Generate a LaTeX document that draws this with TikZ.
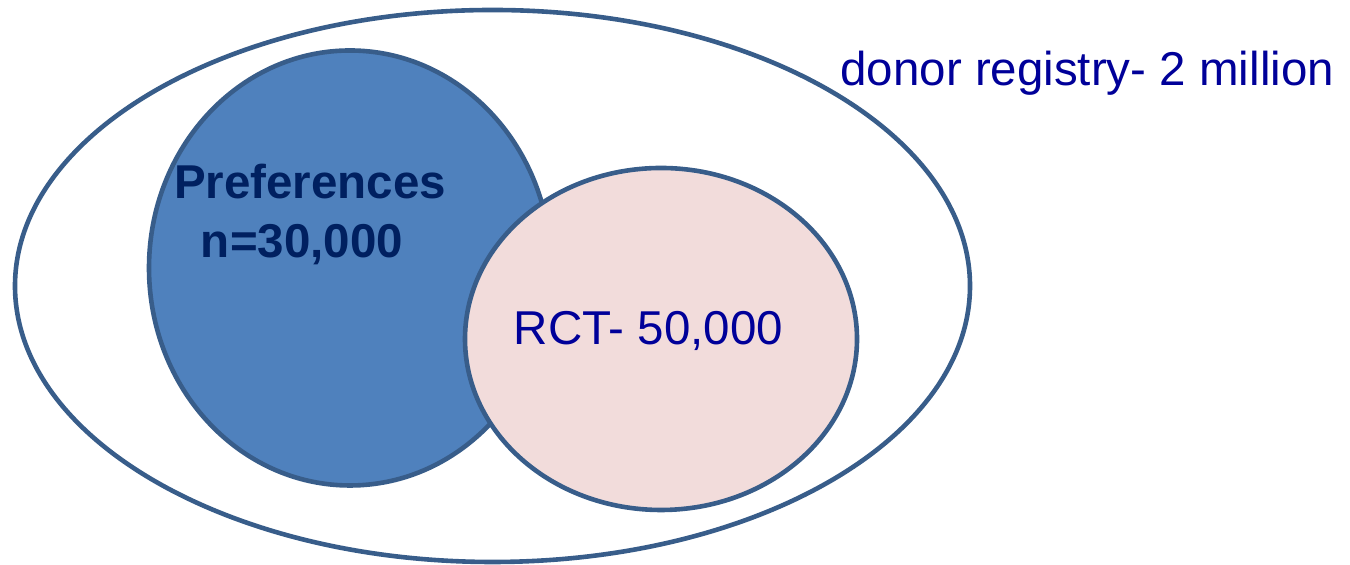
\documentclass[tikz,border=0pt]{standalone}
\usepackage{fontspec}
\setmainfont{Liberation Sans}

\definecolor{setline}{RGB}{56,93,138}
\definecolor{prefblue}{RGB}{79,129,189}
\definecolor{rctpink}{RGB}{242,220,219}
\definecolor{navytext}{RGB}{0,0,153}
\definecolor{darknavy}{RGB}{0,32,96}

\tikzset{
  setborder/.style={draw=setline, line width=2.3pt},
  setlabel/.style={inner sep=0pt, anchor=base, font=\fontsize{23.75}{28}\selectfont},
}

\begin{document}
\begin{tikzpicture}[x=0.5pt, y=0.5pt]
\useasboundingbox (0, 0) rectangle (1350, 565);

% Registry: the large outer set
\draw[setborder, fill=white] (492.5, 279) ellipse [x radius=477.5, y radius=276];
\node[setlabel, anchor=base west, text=navytext] (registry) at (840, 479) {donor registry- 2 million};

% Preferences study
\draw[setborder, fill=prefblue] (350, 297) ellipse [x radius=201, y radius=217.5];
\node[setlabel, text=darknavy, font=\fontsize{23.75}{28}\selectfont\bfseries] (prefs) at (310, 366) {Preferences};
\node[setlabel, text=darknavy, font=\fontsize{23.75}{28}\selectfont\bfseries] (prefsn) at (302, 307) {n=30,000};

% RCT, drawn on top of the preferences set
\draw[setborder, fill=rctpink] (661, 226) ellipse [x radius=196, y radius=171];
\node[setlabel, text=navytext] (rct) at (648.5, 220) {RCT- 50,000};

\end{tikzpicture}
\end{document}
